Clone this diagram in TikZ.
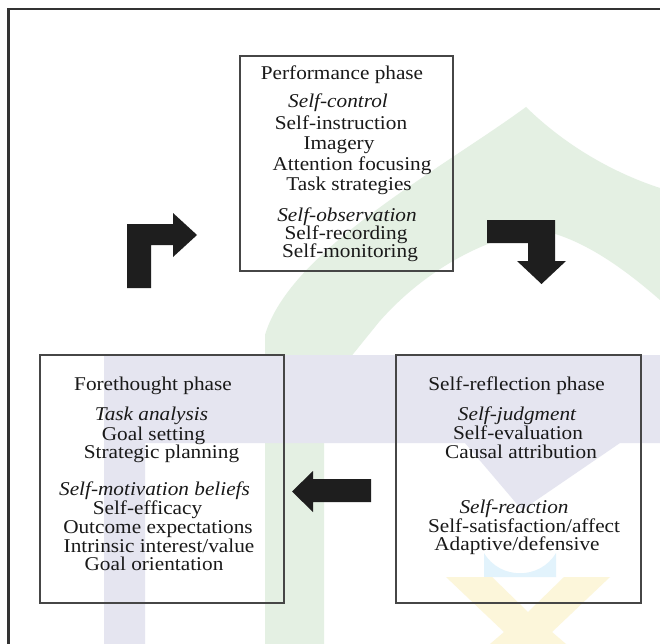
\documentclass[tikz,border=0pt]{standalone}
\usepackage{fontspec}
\setmainfont[FakeStretch=1.09]{Liberation Serif}
\definecolor{wmgreen}{RGB}{228,240,227}
\definecolor{wmlav}{RGB}{229,229,240}
\definecolor{wmyel}{RGB}{252,246,218}
\definecolor{wmblue}{RGB}{226,243,252}
\definecolor{boxline}{RGB}{70,70,70}
\definecolor{arrowfill}{RGB}{30,30,30}
\tikzset{
  phasebox/.style={draw=boxline, line width=1.5bp, inner sep=0pt},
  txt/.style={anchor=base, inner sep=0pt, font=\fontsize{19.5bp}{22bp}\selectfont, text=black!90},
  itxt/.style={txt, font=\fontsize{19.5bp}{22bp}\selectfont\itshape},
  blockarrow/.style={fill=arrowfill, draw=none}
}
\begin{document}
\begin{tikzpicture}[x=1bp,y=-1bp]
\useasboundingbox (0,0) rectangle (660,644);
\fill[white] (0,0) rectangle (660,644);
% watermark
\fill[wmgreen] (265,644) -- (265,335)
  .. controls (290,250) and (440,170) .. (526,107)
  .. controls (570,150) and (620,175) .. (660,188)
  -- (660,300)
  .. controls (620,265) and (580,238) .. (540,230)
  .. controls (480,238) and (420,275) .. (379,322)
  -- (324,390) -- (324,644) -- cycle;
\fill[wmlav] (104,644) -- (104,355) -- (660,355) -- (660,443) -- (620,443) -- (522,510) -- (465,443) -- (145,443) -- (145,644) -- cycle;
\fill[wmblue] (484,553) .. controls (500,580) and (540,580) .. (556,553) -- (556,577) -- (484,577) -- cycle;
\fill[wmyel] (446,577) -- (492,577) -- (528,612) -- (564,577) -- (610,577) -- (552,632) -- (566,644) -- (490,644) -- (504,632) -- cycle;
% frame
\draw[line width=2.2bp, black!80] (660,9) -- (8.5,9) -- (8.5,644);
% boxes
\node[phasebox, minimum width=213bp, minimum height=215bp] (perf) at (346.5,163.5) {};
\node[phasebox, minimum width=244bp, minimum height=248bp] (fore) at (162,479) {};
\node[phasebox, minimum width=245bp, minimum height=248bp] (refl) at (518.5,479) {};
% performance text
\node[txt]  (p0) at (342,80)  {Performance phase};
\node[itxt] (p1) at (338,108) {Self-control};
\node[txt]  (p2) at (341,130) {Self-instruction};
\node[txt]  (p3) at (339,150) {Imagery};
\node[txt]  (p4) at (352,171) {Attention focusing};
\node[txt]  (p5) at (349,191) {Task strategies};
\node[itxt] (p6) at (347,221) {Self-observation};
\node[txt]  (p7) at (346,239) {Self-recording};
\node[txt]  (p8) at (350,257) {Self-monitoring};
% forethought text
\node[txt]  (f0) at (153,390) {Forethought phase};
\node[itxt] (f1) at (151.5,420) {Task analysis};
\node[txt]  (f2) at (153.5,440) {Goal setting};
\node[txt]  (f3) at (161.5,458) {Strategic planning};
\node[itxt] (f4) at (154.5,495) {Self-motivation beliefs};
\node[txt]  (f5) at (147.5,514) {Self-efficacy};
\node[txt]  (f6) at (158,533) {Outcome expectations};
\node[txt]  (f7) at (159,552) {Intrinsic interest/value};
\node[txt]  (f8) at (154,570) {Goal orientation};
% self-reflection text
\node[txt]  (r0) at (516.5,390) {Self-reflection phase};
\node[itxt] (r1) at (517,420) {Self-judgment};
\node[txt]  (r2) at (518,439) {Self-evaluation};
\node[txt]  (r3) at (521,458) {Causal attribution};
\node[itxt] (r4) at (514,513) {Self-reaction};
\node[txt]  (r5) at (524,532) {Self-satisfaction/affect};
\node[txt]  (r6) at (517,550) {Adaptive/defensive};
% block arrows
\fill[blockarrow] (127,288) -- (127,224) -- (173,224) -- (173,213) -- (197,235) -- (173,257) -- (173,245) -- (151,245) -- (151,288) -- cycle;
\fill[blockarrow] (487,220) -- (555,220) -- (555,261) -- (566,261) -- (541.5,284) -- (517,261) -- (528,261) -- (528,243) -- (487,243) -- cycle;
\fill[blockarrow] (371,479) -- (313,479) -- (313,471) -- (292,491.5) -- (313,512) -- (313,502) -- (371,502) -- cycle;
\end{tikzpicture}
\end{document}
